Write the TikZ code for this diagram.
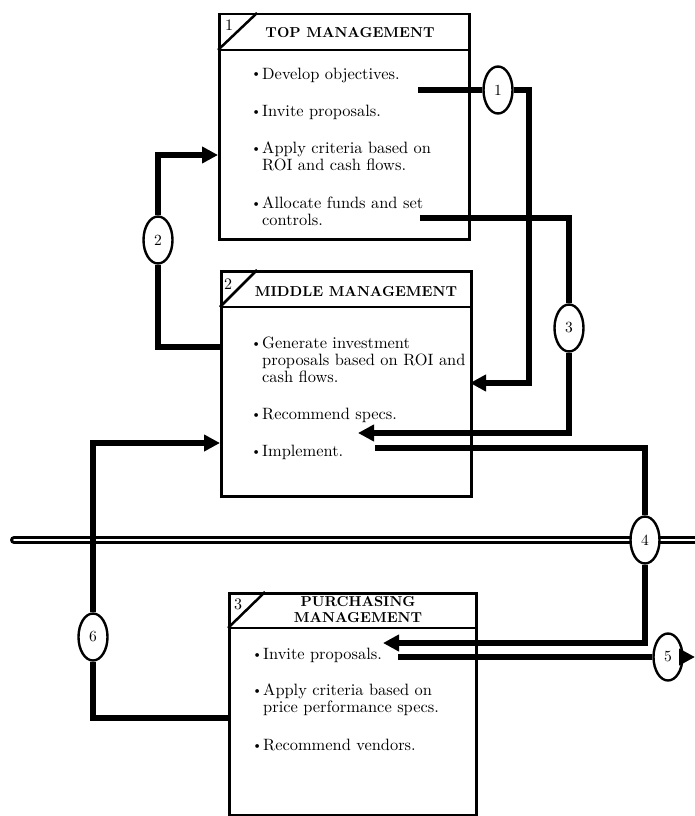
\documentclass[tikz,border=0pt]{standalone}
\usepackage{fontspec}
\setmainfont{lmroman10-regular.otf}[BoldFont=lmroman10-bold.otf]
\usetikzlibrary{shapes.geometric,arrows.meta,backgrounds}
\newcommand{\bl}{\makebox[11pt][l]{\raisebox{0.15ex}{\scalebox{0.8}{\textbullet}}}}
\newcommand{\ind}{\hspace*{11pt}}
\begin{document}
\begin{tikzpicture}[x=1pt,y=-1pt,
  box/.style={draw,line width=2.5pt,inner sep=0pt,anchor=north west},
  rule/.style={line width=2.5pt},
  hd/.style={font=\fontsize{14.4}{16}\selectfont\bfseries,align=center,inner sep=0pt},
  num/.style={font=\fontsize{16}{16}\selectfont,inner sep=0pt},
  item/.style={font=\fontsize{16.4}{17}\selectfont,align=left,anchor=west,inner sep=0pt},
  oval/.style={draw,ellipse,line width=2.4pt,fill=white,minimum width=29pt,minimum height=47pt,inner sep=0pt,font=\fontsize{15.5}{16}\selectfont},
  conn/.style={line width=6pt,line join=miter},
  tip/.style={-{Triangle[length=16pt,width=16pt]}}
]
\useasboundingbox (0,0) rectangle (695,816);

% boxes
\node[box,minimum width=250pt,minimum height=225pt] (top) at (218,13) {};
\node[box,minimum width=250pt,minimum height=225pt] (mid) at (220,270) {};
\node[box,minimum width=247pt,minimum height=222pt] (pur) at (228,592) {};
\draw[rule] (218,50) -- (468,50);
\draw[rule] (218,50) -- (257,13);
\draw[rule] (220,307) -- (470,307);
\draw[rule] (220,307) -- (257,270);
\draw[rule] (228,628) -- (475,628);
\draw[rule] (228,628) -- (265,592);

% headers
\node[num] (n1) at (229,25) {1};
\node[num] (n2) at (228,284) {2};
\node[num] (n3) at (238,604) {3};
\node[hd] (h1) at (350,33) {TOP MANAGEMENT};
\node[hd] (h2) at (356,292) {MIDDLE MANAGEMENT};
\node[hd] (h3) at (358,610) {PURCHASING\\MANAGEMENT};

% items
\node[item] (t1) at (251,75) {\bl Develop objectives.};
\node[item] (t2) at (251,112) {\bl Invite proposals.};
\node[item] (t3) at (251,156.5) {\bl Apply criteria based on\\\ind ROI and cash flows.};
\node[item] (t4) at (251,211) {\bl Allocate funds and set\\\ind controls.};
\node[item] (m1) at (251,359.5) {\bl Generate investment\\\ind proposals based on ROI and\\\ind cash flows.};
\node[item] (m2) at (251,415) {\bl Recommend specs.};
\node[item] (m3) at (251,452) {\bl Implement.};
\node[item] (p1) at (252,655) {\bl Invite proposals.};
\node[item] (p2) at (252,700) {\bl Apply criteria based on\\\ind price performance specs.};
\node[item] (p3) at (252,745) {\bl Recommend vendors.};

% ovals
\node[oval] (o1) at (498,90) {1};
\node[oval] (o2) at (158,240) {2};
\node[oval] (o3) at (569,328) {3};
\node[oval] (o4) at (645,540) {4};
\node[oval] (o5) at (668,657) {5};
\node[oval] (o6) at (93,637) {6};

% coordinates
\coordinate (c1s) at (418,90);
\coordinate (k1) at (529,90);
\coordinate (c1e) at (470,383);
\coordinate (c2s) at (220,347);
\coordinate (c2e) at (218,155);
\coordinate (c3s) at (420,218);
\coordinate (c3e) at (358,433);
\coordinate (c4s) at (375,448);
\coordinate (c4e) at (383,643);
\coordinate (c5s) at (398,657);
\coordinate (c5e) at (695,657);
\coordinate (c6s) at (228,718);
\coordinate (c6e) at (220,443);
\coordinate (dl) at (14,540);
\coordinate (dr) at (705,540);

% divider
\begin{scope}[on background layer]
\draw[line width=3.2pt,double=white,double distance=1.6pt,line cap=round] (dl) -- (dr);
\end{scope}

% connectors
\draw[conn,tip] (c1s) -- (o1) -- (k1) |- (c1e);
\draw[conn,tip] (c2s) -| (o2) |- (c2e);
\draw[conn,tip] (c3s) -| (o3) |- (c3e);
\draw[conn,tip] (c4s) -| (o4) |- (c4e);
\draw[conn,tip] (c5s) -- (o5) -- (c5e);
\draw[conn,tip] (c6s) -| (o6) |- (c6e);
\end{tikzpicture}
\end{document}
